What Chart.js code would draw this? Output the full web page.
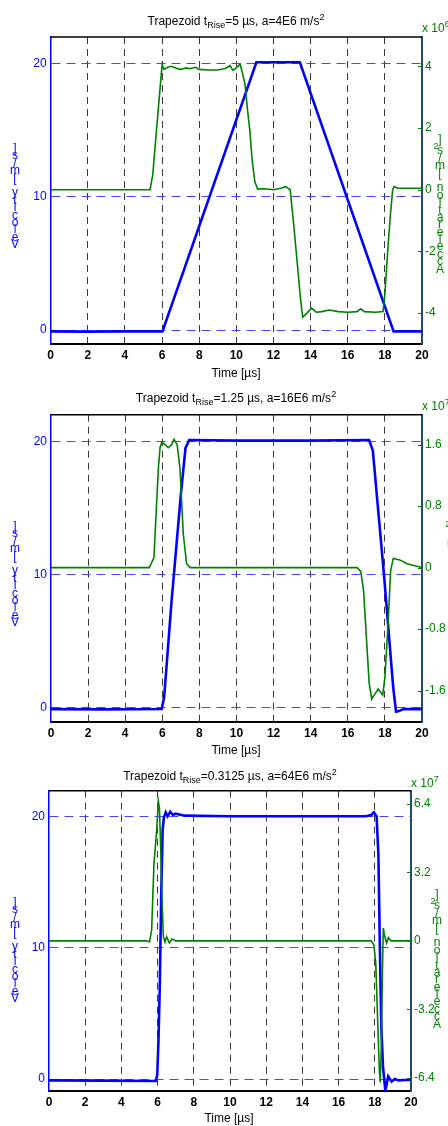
<!DOCTYPE html>
<html>
<head>
<meta charset="utf-8">
<script src="https://cdn.jsdelivr.net/npm/chart.js@4.4.0/dist/chart.umd.min.js"></script>
<style>
  body { margin: 0; background: #fff; font-family: "Liberation Sans", Arial, sans-serif; }
  #page { position: relative; width: 448px; height: 1126px; overflow: hidden; }
  canvas { position: absolute; left: 0; }
  .ttl { position: absolute; font-size: 12px; color: #000; white-space: nowrap; transform: translateX(-50%); line-height: 14px; }
  .ttl sub { font-size: 9px; }
  .ttl sup { font-size: 9px; }
  .xl { position: absolute; font-size: 12px; color: #000; white-space: nowrap; transform: translate(-50%, -50%); }
  .ex { position: absolute; font-size: 12px; color: #008000; white-space: nowrap; }
  .ex sup { font-size: 9px; }
  .stack { position: absolute; display: flex; flex-direction: column; align-items: center; font-size: 12px; transform: translateX(-50%); }
  .stack span { display: block; height: 7.4px; line-height: 7.4px; }
</style>
</head>
<body>
<div id="page">
  <canvas id="c1" width="448" height="390" style="top:0px"></canvas>
  <canvas id="c2" width="448" height="390" style="top:390px"></canvas>
  <canvas id="c3" width="448" height="356" style="top:770px"></canvas>

  <div class="ttl" style="left:236px;top:10px">Trapezoid t<sub>Rise</sub>=5 µs, a=4E6 m/s<sup>2</sup></div>
  <div class="ttl" style="left:236px;top:387px">Trapezoid t<sub>Rise</sub>=1.25 µs, a=16E6 m/s<sup>2</sup></div>
  <div class="ttl" style="left:230px;top:765px">Trapezoid t<sub>Rise</sub>=0.3125 µs, a=64E6 m/s<sup>2</sup></div>

  <div class="ex" style="left:422px;top:19px">x 10<sup>6</sup></div>
  <div class="ex" style="left:422px;top:397px">x 10<sup>7</sup></div>
  <div class="ex" style="left:411px;top:774px">x 10<sup>7</sup></div>

  <div class="xl" style="left:236px;top:373px">Time [µs]</div>
  <div class="xl" style="left:236px;top:750px">Time [µs]</div>
  <div class="xl" style="left:229px;top:1118px">Time [µs]</div>
</div>
<script>
// time axis
const xTicks = [0, 2, 4, 6, 8, 10, 12, 14, 16, 18, 20];
const velTicks = [0, 10, 20];
const acc1Ticks = [-4, -2, 0, 2, 4];
const acc2Ticks = [-1.6, -0.8, 0, 0.8, 1.6];
const acc3Ticks = [-6.4, -3.2, 0, 3.2, 6.4];

// plot 1: tRise = 5 us  (acceleration in 1e6 m/s^2)
const vel1T = [0, 2, 4, 6.02, 11.08, 12, 13.42, 18.47, 19, 20];
const vel1V = [-0.1, -0.12, -0.1, -0.1, 20.1, 20.1, 20.1, -0.1, -0.1, -0.1];
const acc1T = [0, 5.35, 5.5, 5.7, 5.85, 6.0, 6.1, 6.3, 6.5, 6.8, 7.0, 7.3, 7.5, 7.8, 8.0, 8.5, 9.0, 9.4, 9.66, 9.82, 10.0, 10.2, 10.32, 10.47, 10.6, 10.72, 10.86, 11.0, 11.15, 11.5, 12.0, 12.4, 12.65, 12.9, 13.1, 13.3, 13.45, 13.57, 13.8, 14.05, 14.3, 14.6, 15.0, 15.5, 16.0, 16.5, 16.7, 16.9, 17.5, 17.9, 18.0, 18.15, 18.3, 18.42, 18.5, 18.7, 19.0, 20];
const acc1V = [0, 0, 0.5, 1.95, 3.0, 4.05, 3.9, 3.97, 4.0, 3.93, 3.9, 3.95, 3.92, 3.97, 3.9, 3.88, 3.88, 3.93, 4.02, 3.87, 3.95, 4.07, 3.8, 3.4, 2.6, 1.95, 0.9, 0.25, 0.02, 0.03, 0.0, 0.05, 0.1, 0.0, -1.2, -2.5, -3.5, -4.13, -4.0, -3.84, -3.97, -3.95, -3.9, -3.95, -3.97, -3.95, -3.86, -3.95, -3.97, -3.95, -3.4, -2.0, -0.8, 0, 0.1, 0.05, 0.05, 0.05];

// plot 2: tRise = 1.25 us  (acceleration in 1e7 m/s^2)
const vel2T = [0, 3, 5.97, 6.1, 6.5, 7.0, 7.25, 7.45, 10, 14, 17.15, 17.35, 17.95, 18.45, 18.6, 18.75, 19.0, 20];
const vel2V = [-0.1, -0.12, -0.1, 0.8, 8, 16, 19.5, 20.1, 20.05, 20.05, 20.1, 19.3, 10, 1.5, -0.3, -0.25, -0.1, -0.1];
const acc2T = [0, 5.3, 5.55, 5.7, 5.79, 5.88, 5.97, 6.15, 6.32, 6.5, 6.63, 6.8, 6.95, 7.13, 7.31, 7.5, 10, 16.5, 16.7, 16.85, 17.0, 17.15, 17.29, 17.45, 17.64, 17.88, 18.0, 18.18, 18.31, 18.45, 18.8, 19.2, 20];
const acc2V = [0, 0, 0.13, 0.87, 1.3, 1.56, 1.63, 1.6, 1.56, 1.6, 1.67, 1.6, 1.3, 0.44, 0.05, 0, 0, 0, -0.05, -0.3, -0.9, -1.5, -1.71, -1.65, -1.58, -1.66, -1.43, -0.69, -0.04, 0.12, 0.1, 0.05, 0];

// plot 3: tRise = 0.3125 us  (acceleration in 1e7 m/s^2)
const vel3T = [0, 3, 5.9, 5.98, 6.05, 6.12, 6.2, 6.28, 6.35, 6.45, 6.55, 6.7, 6.85, 7.0, 7.5, 10, 14, 17.5, 17.8, 17.95, 18.1, 18.2, 18.28, 18.36, 18.45, 18.58, 18.74, 18.93, 19.1, 19.3, 20];
const vel3V = [-0.1, -0.12, -0.15, 0.3, 3, 7, 14, 19, 19.9, 20.3, 20.0, 20.35, 20.1, 20.2, 20.05, 20.0, 20.0, 20.0, 20.1, 20.3, 20.0, 17, 10, 4, 1.0, -0.9, 0.2, -0.2, 0, -0.1, -0.05];
const acc3T = [0, 5.4, 5.55, 5.67, 5.8, 5.95, 6.04, 6.1, 6.17, 6.24, 6.32, 6.41, 6.5, 6.65, 6.8, 7.0, 10, 17.8, 17.95, 18.05, 18.15, 18.25, 18.3, 18.36, 18.42, 18.47, 18.55, 18.65, 18.75, 18.9, 20];
const acc3V = [0, 0, -0.05, 0.5, 3.6, 5.15, 6.52, 6.2, 4.38, 2.05, 0.19, -0.06, 0.19, -0.1, 0.08, 0, 0, 0, -0.2, -1.0, -3.5, -6.0, -6.6, -5.0, -1.5, 0.6, 0.2, -0.1, 0.15, 0, 0];

const BLUE = "#0000ff";
const GREEN = "#008000";
const FONT = "'Liberation Sans', Arial, sans-serif";

const pts = (t, v) => t.map((x, i) => ({ x, y: v[i] }));

const framePlugin = {
  id: "frame",
  afterDraw(chart) {
    const { ctx, chartArea: a } = chart;
    const yr = chart.scales.yr;
    ctx.save();
    ctx.strokeStyle = "#000";
    ctx.lineWidth = 1.5;
    ctx.beginPath(); ctx.moveTo(a.left, a.top); ctx.lineTo(a.right, a.top); ctx.stroke();
    // inward tick marks on the right axis
    ctx.lineWidth = 1;
    ctx.strokeStyle = GREEN;
    yr.ticks.forEach(t => {
      const y = Math.round(yr.getPixelForValue(t.value)) + 0.5;
      ctx.beginPath(); ctx.moveTo(a.right - 4, y); ctx.lineTo(a.right, y); ctx.stroke();
    });
    ctx.restore();
  }
};

function stackLabel(text, left, top, color, sup) {
  const d = document.createElement("div");
  d.className = "stack";
  d.style.left = left + "px";
  d.style.top = top + "px";
  d.style.color = color;
  [...text].reverse().forEach(ch => {
    const s = document.createElement("span");
    s.textContent = ch;
    if (sup && ch === "2") { s.style.fontSize = "9px"; s.style.marginLeft = "-8px"; s.style.height = "4px"; }
    d.appendChild(s);
  });
  document.getElementById("page").appendChild(d);
}

function makePlot(id, p) {
  const canvasH = document.getElementById(id).height;
  return new Chart(document.getElementById(id), {
    type: "line",
    data: {
      datasets: [
        { data: pts(p.accT, p.accV), yAxisID: "yr", borderColor: GREEN, borderWidth: 1.6, order: 0 },
        { data: pts(p.velT, p.velV), yAxisID: "y", borderColor: BLUE, borderWidth: 2.6, order: 1 }
      ]
    },
    options: {
      responsive: false,
      animation: false,
      events: [],
      parsing: false,
      elements: { point: { radius: 0 }, line: { tension: 0 } },
      layout: { padding: { top: p.top, left: 0, right: 0, bottom: 0 } },
      plugins: { legend: { display: false }, tooltip: { enabled: false } },
      scales: {
        x: {
          type: "linear", min: 0, max: 20,
          afterBuildTicks: s => { s.ticks = xTicks.map(v => ({ value: v })); },
          afterFit: s => { s.height = canvasH - p.bottom; },
          border: { color: "#000", width: 2, dash: [7, 5] },
          grid: {
            drawTicks: false,
            color: c => (c.tick && (c.tick.value === 0 || c.tick.value === 20)) ? "rgba(0,0,0,0)" : "#3a3a3a",
            lineWidth: 1
          },
          ticks: { color: "#000", padding: 4, font: { family: FONT, size: 12, weight: "bold" } }
        },
        y: {
          type: "linear", position: "left", min: p.yMin, max: p.yMax,
          afterBuildTicks: s => { s.ticks = velTicks.map(v => ({ value: v })); },
          afterFit: s => { s.width = p.left; },
          border: { color: BLUE, width: 1.5, dash: [9, 6] },
          grid: { drawTicks: false, color: "#4545ff", lineWidth: 1 },
          ticks: { color: BLUE, padding: 4, font: { family: FONT, size: 12 } }
        },
        yr: {
          type: "linear", position: "right", min: p.rMin, max: p.rMax,
          afterBuildTicks: s => { s.ticks = p.accTicks.map(v => ({ value: v })); },
          afterFit: s => { s.width = 448 - p.right; },
          border: { color: "#1d4e6e", width: 2 },
          grid: { drawTicks: false, drawOnChartArea: false },
          ticks: { color: GREEN, padding: 3, font: { family: FONT, size: 12 }, callback: v => String(v) }
        }
      }
    },
    plugins: [framePlugin]
  });
}

makePlot("c1", { velT: vel1T, velV: vel1V, accT: acc1T, accV: acc1V, accTicks: acc1Ticks,
  yMin: -1.05, yMax: 22, rMin: -5.0, rMax: 4.95, top: 37, bottom: 344, left: 50.7, right: 422 });
makePlot("c2", { velT: vel2T, velV: vel2V, accT: acc2T, accV: acc2V, accTicks: acc2Ticks,
  yMin: -1.07, yMax: 22, rMin: -2.01, rMax: 1.99, top: 24.7, bottom: 332, left: 51, right: 422 });
makePlot("c3", { velT: vel3T, velV: vel3V, accT: acc3T, accV: acc3V, accTicks: acc3Ticks,
  yMin: -0.91, yMax: 21.95, rMin: -7.0, rMax: 7.0, top: 20.7, bottom: 321, left: 49, right: 411 });

stackLabel("Velocity [m/s]", 15, 145, BLUE, false);
stackLabel("Velocity [m/s]", 15, 523, BLUE, false);
stackLabel("Velocity [m/s]", 15, 899, BLUE, false);
stackLabel("Acceleration [m/s2]", 440, 136, GREEN, true);
stackLabel("Acceleration [m/s2]", 452, 514, GREEN, true);
stackLabel("Acceleration [m/s2]", 437, 891, GREEN, true);
</script>
</body>
</html>
